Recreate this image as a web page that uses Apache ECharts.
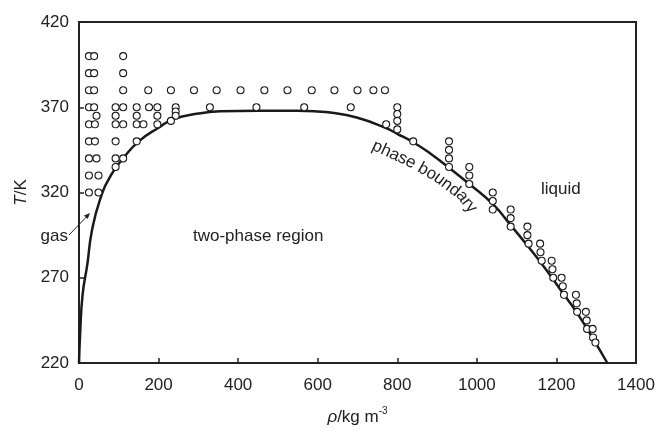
<!DOCTYPE html>
<html>
<head>
<meta charset="utf-8">
<script src="https://cdn.jsdelivr.net/npm/echarts@6/dist/echarts.min.js"></script>
<style>
  html, body { margin: 0; padding: 0; background: #fff; }
  #chart { width: 658px; height: 431px; }
</style>
</head>
<body>
<div id="chart"></div>
<script>
// phase boundary (density kg/m3, temperature K)
const curveRho = [0, 3, 9, 21, 32, 53, 80, 111, 150, 200, 237, 300, 354, 450, 550, 600, 631, 698, 769, 801, 840, 882, 930, 981, 1041, 1088, 1130, 1170, 1210, 1250, 1290, 1328];
const curveT = [220, 238, 260, 278, 297, 316, 330, 340, 350, 358, 363, 366.3, 367.6, 368, 367.9, 367.5, 366.9, 364, 358, 354.3, 349.5, 343, 334.5, 325, 313, 300, 288, 276, 263, 250, 235, 220];

// measured state points
const gasPts = [
    [25, 400], [38, 400], [111, 400],
    [25, 390], [38, 390], [111, 390],
    [25, 380], [38, 380], [111, 380], [174, 380], [231, 380], [289, 380], [346, 380],
    [25, 370], [38, 370], [92, 370], [111, 370], [145, 370], [176, 370], [197, 370], [243, 370], [329, 370],
    [44, 365], [92, 365], [145, 365], [197, 365], [243, 367.5], [243, 365], [231, 362],
    [25, 360], [40, 360], [92, 360], [111, 360], [145, 360], [162, 360], [197, 360],
    [25, 350], [40, 350], [92, 350], [145, 350],
    [25, 340], [44, 340], [92, 340], [111, 340],
    [92, 335],
    [25, 330], [49, 330],
    [25, 320], [49, 320]
];
const ridgePts = [
    [406, 380], [466, 380], [524, 380], [585, 380], [642, 380], [700, 380], [740, 380], [769, 380],
    [446, 370], [566, 370], [683, 370],
    [800, 370], [800, 366], [800, 362], [800, 357], [772, 360], [840, 350]
];
const liquidPts = [
    [930, 350], [930, 345], [930, 340], [930, 335],
    [981, 335], [981, 330], [981, 325],
    [1040, 320], [1040, 315], [1040, 310],
    [1085, 310], [1085, 305], [1085, 300],
    [1127, 300], [1127, 295], [1130, 290],
    [1159, 290], [1160, 285], [1163, 280],
    [1188, 280], [1190, 275], [1192, 270],
    [1213, 270], [1216, 265], [1219, 260],
    [1249, 260], [1251, 255], [1252, 250],
    [1274, 250], [1276, 245], [1277, 240],
    [1291, 240], [1292, 235], [1298, 232]
];

let chart = echarts.init(document.getElementById('chart'));
let font = "'Liberation Sans', Arial, sans-serif";
let ink = '#222';
let fs = 17;

let curveData = curveRho.map((r, i) => [r, curveT[i]]);

// lay text along a polyline (pixel coords)
function curvedText(str, pts) {
    let ctx = document.createElement('canvas').getContext('2d');
    ctx.font = fs + 'px ' + font;
    let segs = [];
    let total = 0;
    for (let i = 1; i < pts.length; i++) {
        let dx = pts[i][0] - pts[i - 1][0];
        let dy = pts[i][1] - pts[i - 1][1];
        let len = Math.sqrt(dx * dx + dy * dy);
        segs.push({ x: pts[i - 1][0], y: pts[i - 1][1], dx: dx, dy: dy, len: len, start: total });
        total += len;
    }
    let out = [];
    let pos = 0;
    for (let ch of str) {
        let w = ctx.measureText(ch).width;
        let mid = pos + w / 2;
        let s = segs[segs.length - 1];
        for (let k = 0; k < segs.length; k++) {
            if (mid <= segs[k].start + segs[k].len) { s = segs[k]; break; }
        }
        let t = (mid - s.start) / s.len;
        out.push({
            type: 'text',
            x: s.x + s.dx * t,
            y: s.y + s.dy * t,
            rotation: -Math.atan2(s.dy, s.dx),
            style: { text: ch, font: fs + 'px ' + font, fill: ink, align: 'center', verticalAlign: 'middle' }
        });
        pos += w;
    }
    return out;
}

let labels = [
    { type: 'text', x: 68, y: 236, style: { text: 'gas', font: fs + 'px ' + font, fill: ink, align: 'right', verticalAlign: 'middle' } },
    { type: 'text', x: 193, y: 236, style: { text: 'two-phase region', font: fs + 'px ' + font, fill: ink, align: 'left', verticalAlign: 'middle' } },
    { type: 'text', x: 541, y: 189, style: { text: 'liquid', font: fs + 'px ' + font, fill: ink, align: 'left', verticalAlign: 'middle' } },
    { type: 'line', shape: { x1: 69, y1: 235, x2: 86.5, y2: 216.8 }, style: { stroke: ink, lineWidth: 1 } },
    { type: 'polygon', shape: { points: [[90, 213], [87.7, 219.1], [84, 215.6]] }, style: { fill: ink } }
].concat(curvedText('phase boundary', [[373, 145], [410, 162], [437, 177], [462, 196], [482, 222]]));

option = {
    backgroundColor: '#fff',
    animation: false,
    grid: {
        left: 79,
        right: 22,
        top: 22,
        bottom: 65,
        show: true,
        borderColor: ink,
        borderWidth: 2
    },
    xAxis: {
        type: 'value',
        min: 0,
        max: 1400,
        interval: 200,
        name: '{i|ρ}{n|/kg m}{s|-3}',
        nameLocation: 'middle',
        nameGap: 43,
        nameTextStyle: {
            rich: {
                i: { fontSize: fs, fontStyle: 'italic', fontFamily: font, color: ink, lineHeight: 20, verticalAlign: 'bottom' },
                n: { fontSize: fs, fontFamily: font, color: ink, lineHeight: 20, verticalAlign: 'bottom' },
                s: { fontSize: 10, fontFamily: font, color: ink, lineHeight: 20, verticalAlign: 'top' }
            }
        },
        splitLine: { show: false },
        axisLine: { lineStyle: { color: ink, width: 2 } },
        axisTick: { inside: true, length: 5, lineStyle: { color: ink, width: 1.5 } },
        axisLabel: { fontSize: fs, fontFamily: font, color: ink, margin: 14, formatter: v => String(v) }
    },
    yAxis: {
        type: 'value',
        min: 220,
        max: 420,
        interval: 50,
        name: '{i|T}{n|/K}',
        nameLocation: 'middle',
        nameGap: 45,
        nameTextStyle: {
            rich: {
                i: { fontSize: fs, fontStyle: 'italic', fontFamily: font, color: ink },
                n: { fontSize: fs, fontFamily: font, color: ink }
            }
        },
        splitLine: { show: false },
        axisLine: { lineStyle: { color: ink, width: 2 } },
        axisTick: { inside: true, length: 5, lineStyle: { color: ink, width: 1.5 } },
        axisLabel: { fontSize: fs, fontFamily: font, color: ink, margin: 10 }
    },
    series: [{
        type: 'line',
        data: curveData,
        smooth: 0.5,
        showSymbol: false,
        lineStyle: { color: '#1a1a1a', width: 2.5 },
        z: 2
    }, {
        type: 'scatter',
        data: gasPts.concat(ridgePts, liquidPts),
        symbol: 'circle',
        symbolSize: 7,
        itemStyle: { color: '#fff', borderColor: '#1a1a1a', borderWidth: 1.1, opacity: 1 },
        z: 3
    }],
    graphic: labels
};
chart.setOption(option);
</script>
</body>
</html>
